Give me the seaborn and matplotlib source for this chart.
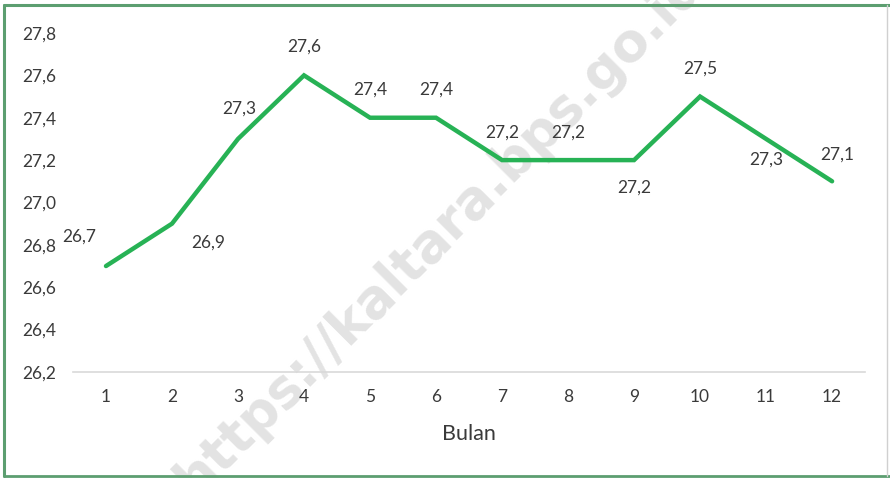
import pandas as pd
import numpy as np
import seaborn as sns
import matplotlib.pyplot as plt
from matplotlib.lines import Line2D

# rata-rata bulanan
bulan = [1, 2, 3, 4, 5, 6, 7, 8, 9, 10, 11, 12]
nilai = [26.7, 26.9, 27.3, 27.6, 27.4, 27.4, 27.2, 27.2, 27.2, 27.5, 27.3, 27.1]
y_ticks = [26.2, 26.4, 26.6, 26.8, 27.0, 27.2, 27.4, 27.6, 27.8]

# posisi label data (offset dalam point), mirip posisi label di excel
label_offset = [(-19, 21), (26, -14), (1, 22), (0, 21), (0, 20), (0, 20),
                (0, 20), (0, 20), (0, -20), (0, 20), (0, -15), (4, 19)]

def koma(v):
    return f"{v:.1f}".replace(".", ",")

def main():
    sns.set_style("white")
    plt.rcParams['font.family'] = ['Lato', 'DejaVu Sans']
    text_col = "#3a3a3a"

    df = pd.DataFrame({"Bulan": bulan, "Nilai": nilai})

    fig = plt.figure(figsize=(8.9, 4.78), dpi=100)
    ax = fig.add_axes([0.082, 0.2218, 0.890, 0.7092])
    ax.patch.set_alpha(0)

    sns.lineplot(data=df, x="Bulan", y="Nilai", ax=ax, color="#27b255",
                 linewidth=3.2, solid_joinstyle="miter")

    for x, y, (dx, dy) in zip(bulan, nilai, label_offset):
        ax.annotate(koma(y), (x, y), xytext=(dx, dy), textcoords="offset points",
                    ha="center", va="center", fontsize=12.5, color=text_col)

    ax.set_xlim(0.5, 12.5)
    ax.set_ylim(26.2, 27.8)
    ax.set_xticks(bulan)
    ax.set_xticklabels([str(b) for b in bulan])
    ax.set_yticks(y_ticks)
    ax.set_yticklabels([koma(v) for v in y_ticks])
    ax.tick_params(axis="both", length=0, labelsize=12.5, labelcolor=text_col)
    ax.tick_params(axis="y", pad=12)
    ax.tick_params(axis="x", pad=12)
    ax.set_ylabel("")
    ax.set_xlabel("Bulan", fontsize=15.5, color=text_col, labelpad=14)

    for s in ["left", "right", "top"]:
        ax.spines[s].set_visible(False)
    ax.spines["bottom"].set_color("#d9d9d9")
    ax.spines["bottom"].set_linewidth(1.2)

    # watermark
    fig.text(0.495, 0.515, "https://kaltara.bps.go.id", rotation=45, ha="center",
             va="center", fontsize=38, fontweight="bold", color="#e3e3e3",
             rotation_mode="anchor", zorder=-1, family="DejaVu Sans")

    # bingkai
    g = "#5c9e70"
    fig.add_artist(Line2D([0.0045, 0.0045], [0.005, 0.99], color=g, lw=2.2, transform=fig.transFigure))
    fig.add_artist(Line2D([0.0045, 1.0], [0.99, 0.99], color=g, lw=2.2, transform=fig.transFigure))
    fig.add_artist(Line2D([0.0045, 1.0], [0.004, 0.004], color=g, lw=2.0, transform=fig.transFigure))
    fig.add_artist(Line2D([0.997, 0.997], [0.005, 0.99], color="#d0d0d0", lw=1.0, transform=fig.transFigure))

    fig.savefig("out.png", dpi=100, facecolor="white")


if __name__ == "__main__":
    main()
